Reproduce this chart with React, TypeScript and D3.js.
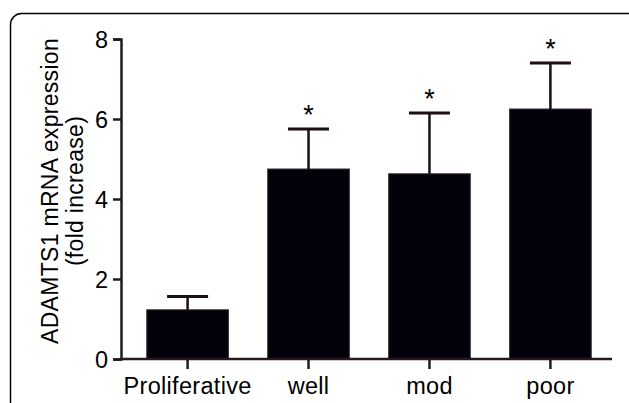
import React, { useEffect, useRef } from "react";
import * as d3 from "d3";

const categories = ["Proliferative", "well", "mod", "poor"];
const means = [1.23, 4.75, 4.63, 6.25];
const errors = [0.33, 1.0, 1.52, 1.15];
const significant = [false, true, true, true];
const yTicks = [0, 2, 4, 6, 8];

const W = 629;
const H = 403;

export default function App() {
  const ref = useRef<SVGSVGElement>(null);

  useEffect(() => {
    const svg = d3.select(ref.current);
    svg.selectAll("*").remove();

    const font = "'Liberation Sans', Arial, Helvetica, sans-serif";
    const axisColor = "#231a1e";

    svg
      .append("rect")
      .attr("x", 10.5)
      .attr("y", 13.5)
      .attr("width", 640)
      .attr("height", 420)
      .attr("rx", 11)
      .attr("fill", "white")
      .attr("stroke", "#000")
      .attr("stroke-width", 1.5);

    const x = d3
      .scaleBand<string>()
      .domain(categories)
      .range([125, 613])
      .paddingInner(0.325)
      .paddingOuter(0.18);

    const y = d3.scaleLinear().domain([0, 8]).range([359, 39]);

    const g = svg.append("g");

    // bars
    g.selectAll("rect.bar")
      .data(categories)
      .join("rect")
      .attr("class", "bar")
      .attr("x", (d) => x(d)!)
      .attr("width", x.bandwidth())
      .attr("y", (_, i) => y(means[i]))
      .attr("height", (_, i) => y(0) - y(means[i]))
      .attr("fill", "#03020a")
      .attr("stroke", "#3a2c31")
      .attr("stroke-width", 1);

    // error bars
    const capW = 41;
    categories.forEach((c, i) => {
      const cx = x(c)! + x.bandwidth() / 2;
      g.append("line")
        .attr("x1", cx)
        .attr("x2", cx)
        .attr("y1", y(means[i]))
        .attr("y2", y(means[i] + errors[i]))
        .attr("stroke", "#1a0f14")
        .attr("stroke-width", 2.5);
      g.append("line")
        .attr("x1", cx - capW / 2)
        .attr("x2", cx + capW / 2)
        .attr("y1", y(means[i] + errors[i]))
        .attr("y2", y(means[i] + errors[i]))
        .attr("stroke", "#1a0f14")
        .attr("stroke-width", 3);
      if (significant[i]) {
        g.append("text")
          .attr("x", cx)
          .attr("y", y(means[i] + errors[i]) - 5)
          .attr("text-anchor", "middle")
          .attr("font-family", font)
          .attr("font-size", 27)
          .attr("fill", "#000")
          .text("*");
      }
    });

    // y axis
    const yAxis = d3
      .axisLeft(y)
      .tickValues(yTicks)
      .tickSize(8)
      .tickPadding(5)
      .tickFormat(d3.format("d"));
    const ya = svg.append("g").attr("transform", "translate(121,0)").call(yAxis);
    ya.select(".domain").attr("stroke", axisColor).attr("stroke-width", 2.5);
    ya.selectAll(".tick line").attr("stroke", axisColor).attr("stroke-width", 2.5);
    ya.selectAll(".tick text")
      .attr("font-family", font)
      .attr("font-size", 23.5)
      .attr("fill", "#000")
      .attr("dy", "0.36em");

    // x axis
    const xAxis = d3.axisBottom(x).tickSize(10).tickSizeOuter(0).tickPadding(8);
    const xa = svg.append("g").attr("transform", "translate(0,359)").call(xAxis);
    xa.select(".domain")
      .attr("d", "M121,0H612")
      .attr("stroke", axisColor)
      .attr("stroke-width", 2.5);
    xa.selectAll(".tick line").attr("stroke", axisColor).attr("stroke-width", 2.5);
    xa.selectAll(".tick text")
      .attr("font-family", font)
      .attr("font-size", 23.5)
      .attr("letter-spacing", "0.3px")
      .attr("fill", "#000");

    // y label
    const yl = svg
      .append("text")
      .attr("transform", `translate(58,${(y(0) + y(8)) / 2 - 8}) rotate(-90)`)
      .attr("text-anchor", "middle")
      .attr("font-family", font)
      .attr("font-size", 23)
      .attr("letter-spacing", "0.3px")
      .attr("fill", "#000");
    yl.append("tspan").attr("x", 0).attr("dy", 0).text("ADAMTS1 mRNA expression");
    yl.append("tspan").attr("x", 0).attr("dy", 25).text("(fold increase)");
  }, []);

  return (
    <svg
      ref={ref}
      width={W}
      height={H}
      style={{ position: "absolute", left: 0, top: 0, background: "white" }}
    />
  );
}
